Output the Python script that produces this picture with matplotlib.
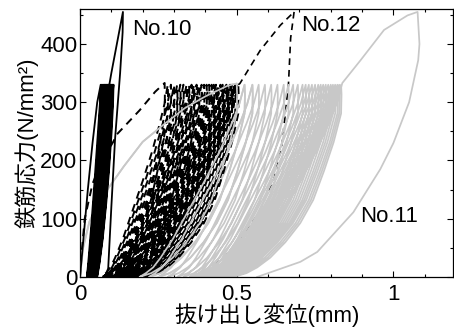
import numpy as np
import matplotlib
matplotlib.use("Agg")
import matplotlib.pyplot as plt
from matplotlib.ticker import MultipleLocator

plt.rcParams['font.family'] = ['Liberation Sans', 'Noto Sans CJK JP', 'DejaVu Sans']

# loop shape templates (normalised stress s, normalised displacement u)
load_s = [0, 0.02, 0.05, 0.1, 0.2, 0.35, 0.5, 0.65, 0.8, 0.9, 1.0]
load_u = [0, 0.06, 0.13, 0.2, 0.32, 0.47, 0.62, 0.76, 0.88, 0.95, 1.0]
unload_s = [1.0, 0.95, 0.85, 0.7, 0.55, 0.4, 0.28, 0.18, 0.1, 0.05, 0.02, 0]
unload_u = [1.0, 1.004, 1.0, 0.93, 0.84, 0.74, 0.62, 0.48, 0.34, 0.22, 0.12, 0]
# narrower, almost straight loops of No.10
thin_load_s = [0, 0.1, 0.3, 0.5, 0.7, 0.9, 1.0]
thin_load_u = [0, 0.12, 0.33, 0.52, 0.7, 0.88, 1.0]
thin_unload_s = [1.0, 0.9, 0.75, 0.55, 0.38, 0.2, 0.07, 0]
thin_unload_u = [1.0, 0.97, 0.88, 0.72, 0.55, 0.34, 0.14, 0]

# No.10 (solid black)
no10_env_x = [0, 0.01, 0.025, 0.04, 0.055, 0.066]
no10_env_y = [0, 60, 150, 230, 300, 330]
no10_peak = [0.066, 0.069, 0.072, 0.075, 0.077, 0.079, 0.081, 0.083, 0.085, 0.087,
             0.089, 0.091, 0.093, 0.095, 0.097, 0.099, 0.101, 0.103, 0.105, 0.107]
no10_resid = [0.022, 0.024, 0.026, 0.028, 0.03, 0.032, 0.034, 0.036, 0.038, 0.04,
              0.042, 0.044, 0.046, 0.048, 0.05, 0.051, 0.052, 0.053, 0.054, 0.055]
no10_last_x = [0.055, 0.058, 0.064, 0.1, 0.137, 0.136, 0.128, 0.112, 0.1, 0.09, 0.08]
no10_last_y = [0, 120, 238, 350, 455, 420, 350, 238, 120, 15, 0]

# No.11 (grey)
no11_env_x = [0, 0.01, 0.03, 0.06, 0.09, 0.14, 0.2, 0.27, 0.335, 0.4, 0.47, 0.5]
no11_env_y = [0, 50, 95, 130, 152, 190, 232, 263, 290, 310, 328, 332]
no11_peak = [0.5, 0.525, 0.55, 0.57, 0.59, 0.61, 0.63, 0.65, 0.665, 0.68, 0.695,
             0.71, 0.72, 0.73, 0.74, 0.75, 0.76, 0.768, 0.776, 0.784, 0.792, 0.8,
             0.807, 0.814, 0.821, 0.827, 0.833]
no11_resid = [0.19, 0.22, 0.25, 0.28, 0.31, 0.33, 0.35, 0.36, 0.37, 0.38, 0.39,
              0.4, 0.405, 0.41, 0.415, 0.42, 0.425, 0.43, 0.435, 0.44, 0.445, 0.45,
              0.455, 0.46, 0.47, 0.48, 0.49]
no11_last_x = [0.837, 0.895, 0.97, 1.045, 1.077, 1.083, 1.079, 1.05, 1.0, 0.958,
               0.872, 0.757, 0.703, 0.565]
no11_last_y = [333, 372, 424, 449, 455, 400, 372, 300, 230, 185, 111, 43, 26, 0]

# No.12 (dashed black)
no12_env_x = [0, 0.005, 0.015, 0.04, 0.07, 0.105, 0.118, 0.19, 0.24, 0.27]
no12_env_y = [0, 40, 100, 160, 200, 231, 245, 286, 318, 333]
no12_peak = [0.27, 0.28, 0.29, 0.3, 0.31, 0.32, 0.33, 0.34, 0.348, 0.356, 0.364,
             0.372, 0.38, 0.388, 0.396, 0.404, 0.412, 0.42, 0.427, 0.434, 0.441,
             0.448, 0.455, 0.461, 0.467, 0.473, 0.479, 0.485, 0.49, 0.495, 0.5, 0.505]
no12_resid = [0.07, 0.074, 0.078, 0.082, 0.086, 0.09, 0.094, 0.098, 0.102, 0.106,
              0.11, 0.114, 0.118, 0.122, 0.126, 0.13, 0.134, 0.138, 0.142, 0.146,
              0.15, 0.156, 0.162, 0.168, 0.174, 0.18, 0.186, 0.192, 0.198, 0.204,
              0.21, 0.216]
no12_rise_x = [0.505, 0.51, 0.575, 0.639, 0.683]
no12_rise_y = [330, 332, 389, 432, 455]
no12_fall_x = [0.683, 0.672, 0.665, 0.645, 0.62, 0.57, 0.5, 0.42, 0.36]
no12_fall_y = [455, 410, 330, 230, 170, 110, 55, 15, 0]

fy = 330  # cyclic peak stress
n_front = 3  # first No.11 cycles, visible over the No.12 loops


def cycle_path(env_x, env_y, peaks, resids, last_x=None, last_y=None, thin=False):
    if thin:
        ls, lu = np.array(thin_load_s), np.array(thin_load_u)
        us, uu = np.array(thin_unload_s), np.array(thin_unload_u)
    else:
        ls, lu = np.array(load_s), np.array(load_u)
        us, uu = np.array(unload_s), np.array(unload_u)
    xs, ys = list(env_x), list(env_y)
    for i, p in enumerate(peaks):
        if i > 0:
            r0 = resids[i - 1]
            xs += list(r0 + (p - r0) * lu)
            ys += list(fy * ls)
        r1 = resids[i]
        xs += list(r1 + (p - r1) * uu)
        ys += list(fy * us)
    if last_x is not None:
        r0 = resids[-1]
        if last_y[0] > 0:
            xs += list(r0 + (last_x[0] - r0) * lu)
            ys += list(last_y[0] * ls)
        xs += list(last_x)
        ys += list(last_y)
    return xs, ys


fig = plt.figure(figsize=(4.54, 3.34), dpi=100)
ax = fig.add_axes([0.1762, 0.1707, 0.8216, 0.8024])

dash = (0, (4, 3))
grey = '#c8c8c8'

x11, y11 = cycle_path(no11_env_x, no11_env_y, no11_peak, no11_resid, no11_last_x, no11_last_y)
ax.plot(x11, y11, color=grey, lw=1.25, zorder=2)

x12, y12 = cycle_path(no12_env_x, no12_env_y, no12_peak, no12_resid)
ax.plot(x12, y12, color='black', lw=1.4, ls=dash, zorder=3)
ax.plot(no12_fall_x, no12_fall_y, color='black', lw=1.2, ls=dash, zorder=1.5)

xf, yf = cycle_path(no11_env_x, no11_env_y, no11_peak[:n_front], no11_resid[:n_front])
ax.plot(xf, yf, color=grey, lw=1.25, zorder=4)

ax.plot(no12_rise_x, no12_rise_y, color='black', lw=1.2, ls=dash, zorder=4.5)

x10, y10 = cycle_path(no10_env_x, no10_env_y, no10_peak, no10_resid, no10_last_x, no10_last_y,
                      thin=True)
ax.plot(x10, y10, color='black', lw=1.3, zorder=5)

ax.text(0.166, 424, 'No.10', fontsize=16, va='center', ha='left')
ax.text(0.706, 432, 'No.12', fontsize=16, va='center', ha='left')
ax.text(0.895, 103, 'No.11', fontsize=16, va='center', ha='left')

ax.set_xlim(0, 1.19)
ax.set_ylim(0, 460)
ax.xaxis.set_minor_locator(MultipleLocator(0.1))
ax.yaxis.set_major_locator(MultipleLocator(100))
ax.yaxis.set_minor_locator(MultipleLocator(50))
ax.set_xticks([0, 0.5, 1])
ax.set_xticklabels(['0', '0.5', '1'])
ax.tick_params(which='both', direction='in', top=True, right=True, labelsize=16, width=0.8)
ax.tick_params(which='major', length=4)
ax.tick_params(which='minor', length=2.5)
ax.tick_params(axis='x', which='major', pad=5)
ax.tick_params(axis='y', which='major', pad=2)
for sp in ax.spines.values():
    sp.set_linewidth(0.9)

ax.set_xlabel('抜け出し変位(mm)', fontsize=16, labelpad=-1)
ax.set_ylabel('鉄筋応力(N/mm²)', fontsize=16, labelpad=1)

fig.savefig('out.png', dpi=100)
